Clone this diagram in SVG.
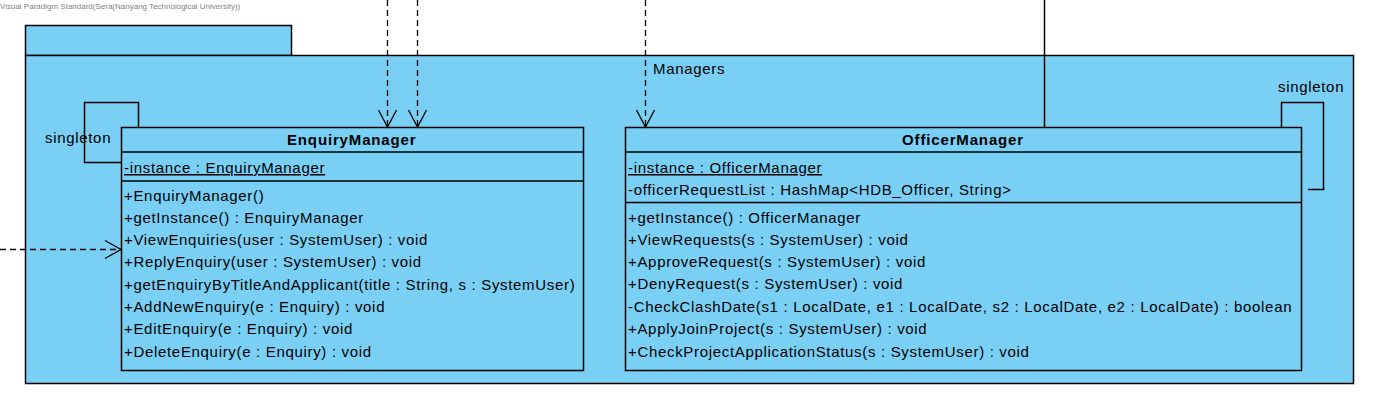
<svg xmlns="http://www.w3.org/2000/svg" width="1380" height="411" viewBox="0 0 1380 411">
<style>
text{font-family:"Liberation Sans",Arial,sans-serif;fill:#000}
.t{font-size:15px;letter-spacing:0.68px}
.b{font-size:15px;font-weight:bold;letter-spacing:0.85px}
.wm{font-size:8px;fill:#7f7f7f}
.box{fill:#7ACFF5;stroke:#000;stroke-width:1.5}
.ln{fill:none;stroke:#000;stroke-width:1.5}
.dash{fill:none;stroke:#000;stroke-width:1.3;stroke-dasharray:6,4}
.head{fill:none;stroke:#000;stroke-width:1.3}
</style>
<rect width="1380" height="411" fill="#fff"/>
<text class="wm" x="0" y="9">Visual Paradigm Standard(Sera(Nanyang Technological University))</text>
<g id="pkg-managers">
<rect class="box" x="25.5" y="25.5" width="266" height="30"/>
<rect class="box" x="25.5" y="55.5" width="1328" height="328"/>
<text class="t" x="653" y="74">Managers</text>
</g>
<g id="node-enquirymanager">
<rect class="box" x="121.5" y="127.5" width="462" height="243"/>
<line class="ln" x1="121.5" y1="152" x2="583.5" y2="152"/>
<line class="ln" x1="121.5" y1="181" x2="583.5" y2="181"/>
<text class="b" x="287" y="145">EnquiryManager</text>
<text class="t" x="124" y="173" text-decoration="underline">-instance : EnquiryManager</text>
<text class="t" x="124" y="201">+EnquiryManager()</text>
<text class="t" x="124" y="223">+getInstance() : EnquiryManager</text>
<text class="t" x="124" y="245">+ViewEnquiries(user : SystemUser) : void</text>
<text class="t" x="124" y="267">+ReplyEnquiry(user : SystemUser) : void</text>
<text class="t" x="124" y="290">+getEnquiryByTitleAndApplicant(title : String, s : SystemUser)</text>
<text class="t" x="124" y="312">+AddNewEnquiry(e : Enquiry) : void</text>
<text class="t" x="124" y="334">+EditEnquiry(e : Enquiry) : void</text>
<text class="t" x="124" y="357">+DeleteEnquiry(e : Enquiry) : void</text>
</g>
<g id="node-officermanager">
<rect class="box" x="625.5" y="127.5" width="676" height="243"/>
<line class="ln" x1="625.5" y1="152" x2="1301.5" y2="152"/>
<line class="ln" x1="625.5" y1="202.5" x2="1301.5" y2="202.5"/>
<text class="b" x="963" y="145" text-anchor="middle">OfficerManager</text>
<text class="t" x="628" y="173" text-decoration="underline">-instance : OfficerManager</text>
<text class="t" x="628" y="195">-officerRequestList : HashMap&lt;HDB_Officer, String&gt;</text>
<text class="t" x="628" y="223">+getInstance() : OfficerManager</text>
<text class="t" x="628" y="245">+ViewRequests(s : SystemUser) : void</text>
<text class="t" x="628" y="267">+ApproveRequest(s : SystemUser) : void</text>
<text class="t" x="628" y="289">+DenyRequest(s : SystemUser) : void</text>
<text class="t" x="628" y="312">-CheckClashDate(s1 : LocalDate, e1 : LocalDate, s2 : LocalDate, e2 : LocalDate) : boolean</text>
<text class="t" x="628" y="334">+ApplyJoinProject(s : SystemUser) : void</text>
<text class="t" x="628" y="357">+CheckProjectApplicationStatus(s : SystemUser) : void</text>
</g>
<g id="connectors">
<polyline class="ln" points="138.5,127.5 138.5,102.5 84.5,102.5 84.5,162.5 121.5,162.5"/>
<text class="t" x="45" y="143">singleton</text>
<polyline class="ln" points="1281.5,127.5 1281.5,102.5 1323.5,102.5 1323.5,189.5 1308,189.5"/>
<text class="t" x="1278" y="92">singleton</text>
<line class="dash" x1="387.5" y1="0" x2="387.5" y2="127"/>
<polyline class="head" points="378.5,110 387.5,127 396.5,110"/>
<line class="dash" x1="417.5" y1="0" x2="417.5" y2="127"/>
<polyline class="head" points="408.5,110 417.5,127 426.5,110"/>
<line class="dash" x1="645.5" y1="0" x2="645.5" y2="127"/>
<polyline class="head" points="636.5,110 645.5,127 654.5,110"/>
<line class="ln" x1="1044.5" y1="0" x2="1044.5" y2="127.5"/>
<line class="dash" x1="0" y1="249.5" x2="121" y2="249.5"/>
<polyline class="head" points="105,240.5 121,249.5 105,258.5"/>
</g>
</svg>
